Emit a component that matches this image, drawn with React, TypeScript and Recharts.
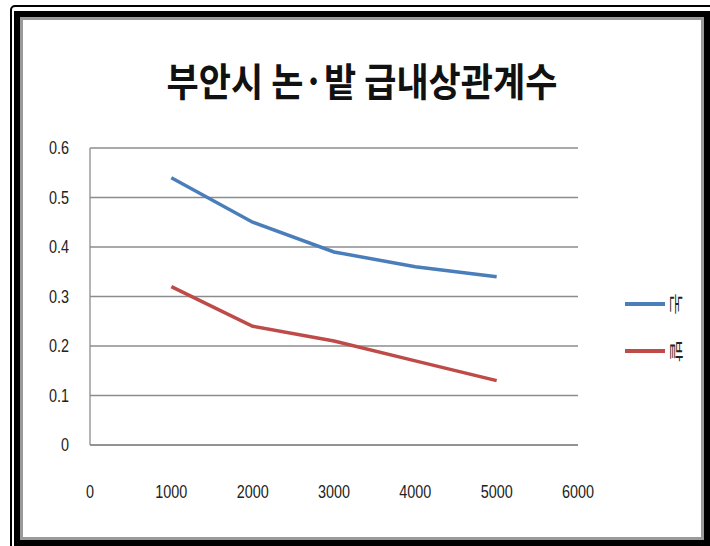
import React from "react";
import { LineChart, Line, XAxis, YAxis, CartesianGrid, Legend } from "recharts";

// 상관계수 by distance
const distances = [1000, 2000, 3000, 4000, 5000];
const paddyValues = [0.54, 0.45, 0.39, 0.36, 0.34];
const fieldValues = [0.32, 0.24, 0.21, 0.17, 0.13];
const yTicks = [0, 0.1, 0.2, 0.3, 0.4, 0.5, 0.6];
const xTicks = [0, 1000, 2000, 3000, 4000, 5000, 6000];

const series = [
  { key: "논", values: paddyValues, color: "#4a7ebb" },
  { key: "밭", values: fieldValues, color: "#be4b48" },
];

const data = distances.map((d, i) => {
  const row: Record<string, number> = { d };
  series.forEach((s) => (row[s.key] = s.values[i]));
  return row;
});

// narrow, tall tick labels
function NarrowTick({ x, y, payload, textAnchor, axis }: any) {
  const dy = axis === "x" ? 14 : 6;
  return (
    <g transform={`translate(${x},${y + dy}) scale(0.8,1)`}>
      <text
        textAnchor={textAnchor}
        fontFamily="'Liberation Sans', Arial, sans-serif"
        fontSize={18}
        fill="#222"
      >
        {payload.value}
      </text>
    </g>
  );
}

function RotatedLegend({ payload }: any) {
  return (
    <div>
      {(payload || []).map((p: any) => (
        <div
          key={p.value}
          style={{ display: "flex", alignItems: "center", height: 47 }}
        >
          <div style={{ width: 40, height: 4, background: p.color }} />
          <div
            style={{
              marginLeft: 3,
              transform: "rotate(90deg) scale(1.2, 0.65)",
              fontFamily: "'Noto Sans CJK KR', sans-serif",
              fontSize: 20,
              color: "#222",
              lineHeight: 1,
            }}
          >
            {p.value}
          </div>
        </div>
      ))}
    </div>
  );
}

export default function App() {
  return (
    <div
      style={{
        position: "absolute",
        left: 0,
        top: 0,
        width: 710,
        height: 546,
        background: "#fff",
        overflow: "hidden",
      }}
    >
      {/* double frame */}
      <div
        style={{
          position: "absolute",
          left: 10,
          top: 5,
          width: 710,
          height: 560,
          border: "2px solid #000",
          borderRadius: 5,
          boxSizing: "border-box",
        }}
      />
      <div
        style={{
          position: "absolute",
          left: 14,
          top: 11,
          width: 696,
          height: 535,
          border: "6px solid #000",
          boxSizing: "border-box",
        }}
      >
        <div
          style={{
            width: "100%",
            height: "100%",
            border: "3px solid #9a9a9a",
            boxSizing: "border-box",
            background: "#fff",
          }}
        />
      </div>

      <div
        style={{
          position: "absolute",
          left: 7,
          top: 60,
          width: 710,
          textAlign: "center",
          fontFamily: "'Noto Sans CJK KR', sans-serif",
          fontWeight: 700,
          fontSize: 35,
          lineHeight: "38px",
          color: "#111",
          transform: "scaleY(1.12)",
        }}
      >
        부안시 논·밭 급내상관계수
      </div>

      <div style={{ position: "absolute", left: 0, top: 0 }}>
        <LineChart
          width={710}
          height={546}
          data={data}
          margin={{ top: 148, right: 132, bottom: 41, left: 0 }}
        >
          <CartesianGrid vertical={false} stroke="#8c8c8c" strokeWidth={1.3} />
          <XAxis
            dataKey="d"
            type="number"
            domain={[0, 6000]}
            ticks={xTicks}
            height={60}
            tickSize={0}
            tickMargin={39}
            tick={<NarrowTick axis="x" />}
            stroke="#8c8c8c"
            strokeWidth={1.3}
          />
          <YAxis
            domain={[0, 0.6]}
            ticks={yTicks}
            width={90}
            tickSize={0}
            tickMargin={21}
            tick={<NarrowTick axis="y" />}
            stroke="#8c8c8c"
            strokeWidth={1.3}
          />
          <Legend
            layout="horizontal"
            verticalAlign="middle"
            align="center"
            content={<RotatedLegend />}
            wrapperStyle={{ left: 625, top: 280, width: 70 }}
          />
          {series.map((s) => (
            <Line
              key={s.key}
              dataKey={s.key}
              stroke={s.color}
              strokeWidth={3.5}
              dot={false}
              isAnimationActive={false}
            />
          ))}
        </LineChart>
      </div>
    </div>
  );
}
